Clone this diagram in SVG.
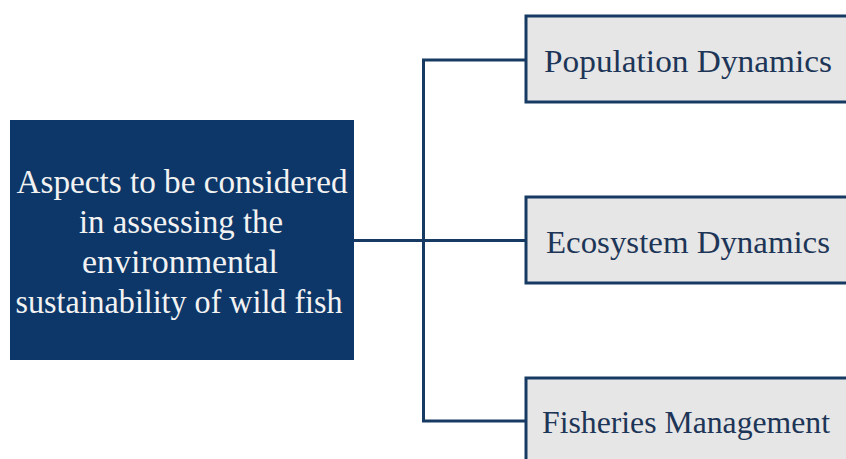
<svg xmlns="http://www.w3.org/2000/svg" width="846" height="459" viewBox="0 0 846 459">
<style>
.conn{fill:none;stroke:#173a63;stroke-width:3;stroke-linejoin:miter}
.box{fill:#e6e6e6;stroke:#173a63;stroke-width:3}
.lbl{font-family:"Liberation Serif","Times New Roman",serif;font-size:31px;fill:#1d3557}
.main{font-family:"Liberation Serif","Times New Roman",serif;font-size:33px;fill:#f2f2f2;text-anchor:middle}
</style>
<rect width="846" height="459" fill="#ffffff"/>
<g id="connectors">
<path class="conn" d="M354 240.5H526"/>
<path class="conn" d="M526 60H423.5V421H526"/>
</g>
<g id="main">
<rect x="10" y="120" width="344" height="240" fill="#0d3768"/>
<text class="main" x="182" y="193" textLength="331" lengthAdjust="spacingAndGlyphs">Aspects to be considered</text>
<text class="main" x="181" y="233" textLength="204" lengthAdjust="spacingAndGlyphs">in assessing the</text>
<text class="main" x="180" y="273" textLength="196" lengthAdjust="spacingAndGlyphs">environmental</text>
<text class="main" x="179" y="313" textLength="327" lengthAdjust="spacingAndGlyphs">sustainability of wild fish</text>
</g>
<g id="population">
<rect class="box" x="526" y="16" width="340" height="86"/>
<text class="lbl" x="544" y="72" textLength="288" lengthAdjust="spacingAndGlyphs">Population Dynamics</text>
</g>
<g id="ecosystem">
<rect class="box" x="526" y="197" width="340" height="86"/>
<text class="lbl" x="546" y="253" textLength="284" lengthAdjust="spacingAndGlyphs">Ecosystem Dynamics</text>
</g>
<g id="fisheries">
<rect class="box" x="526" y="378" width="340" height="100"/>
<text class="lbl" x="542" y="433" textLength="288" lengthAdjust="spacingAndGlyphs">Fisheries Management</text>
</g>
</svg>
